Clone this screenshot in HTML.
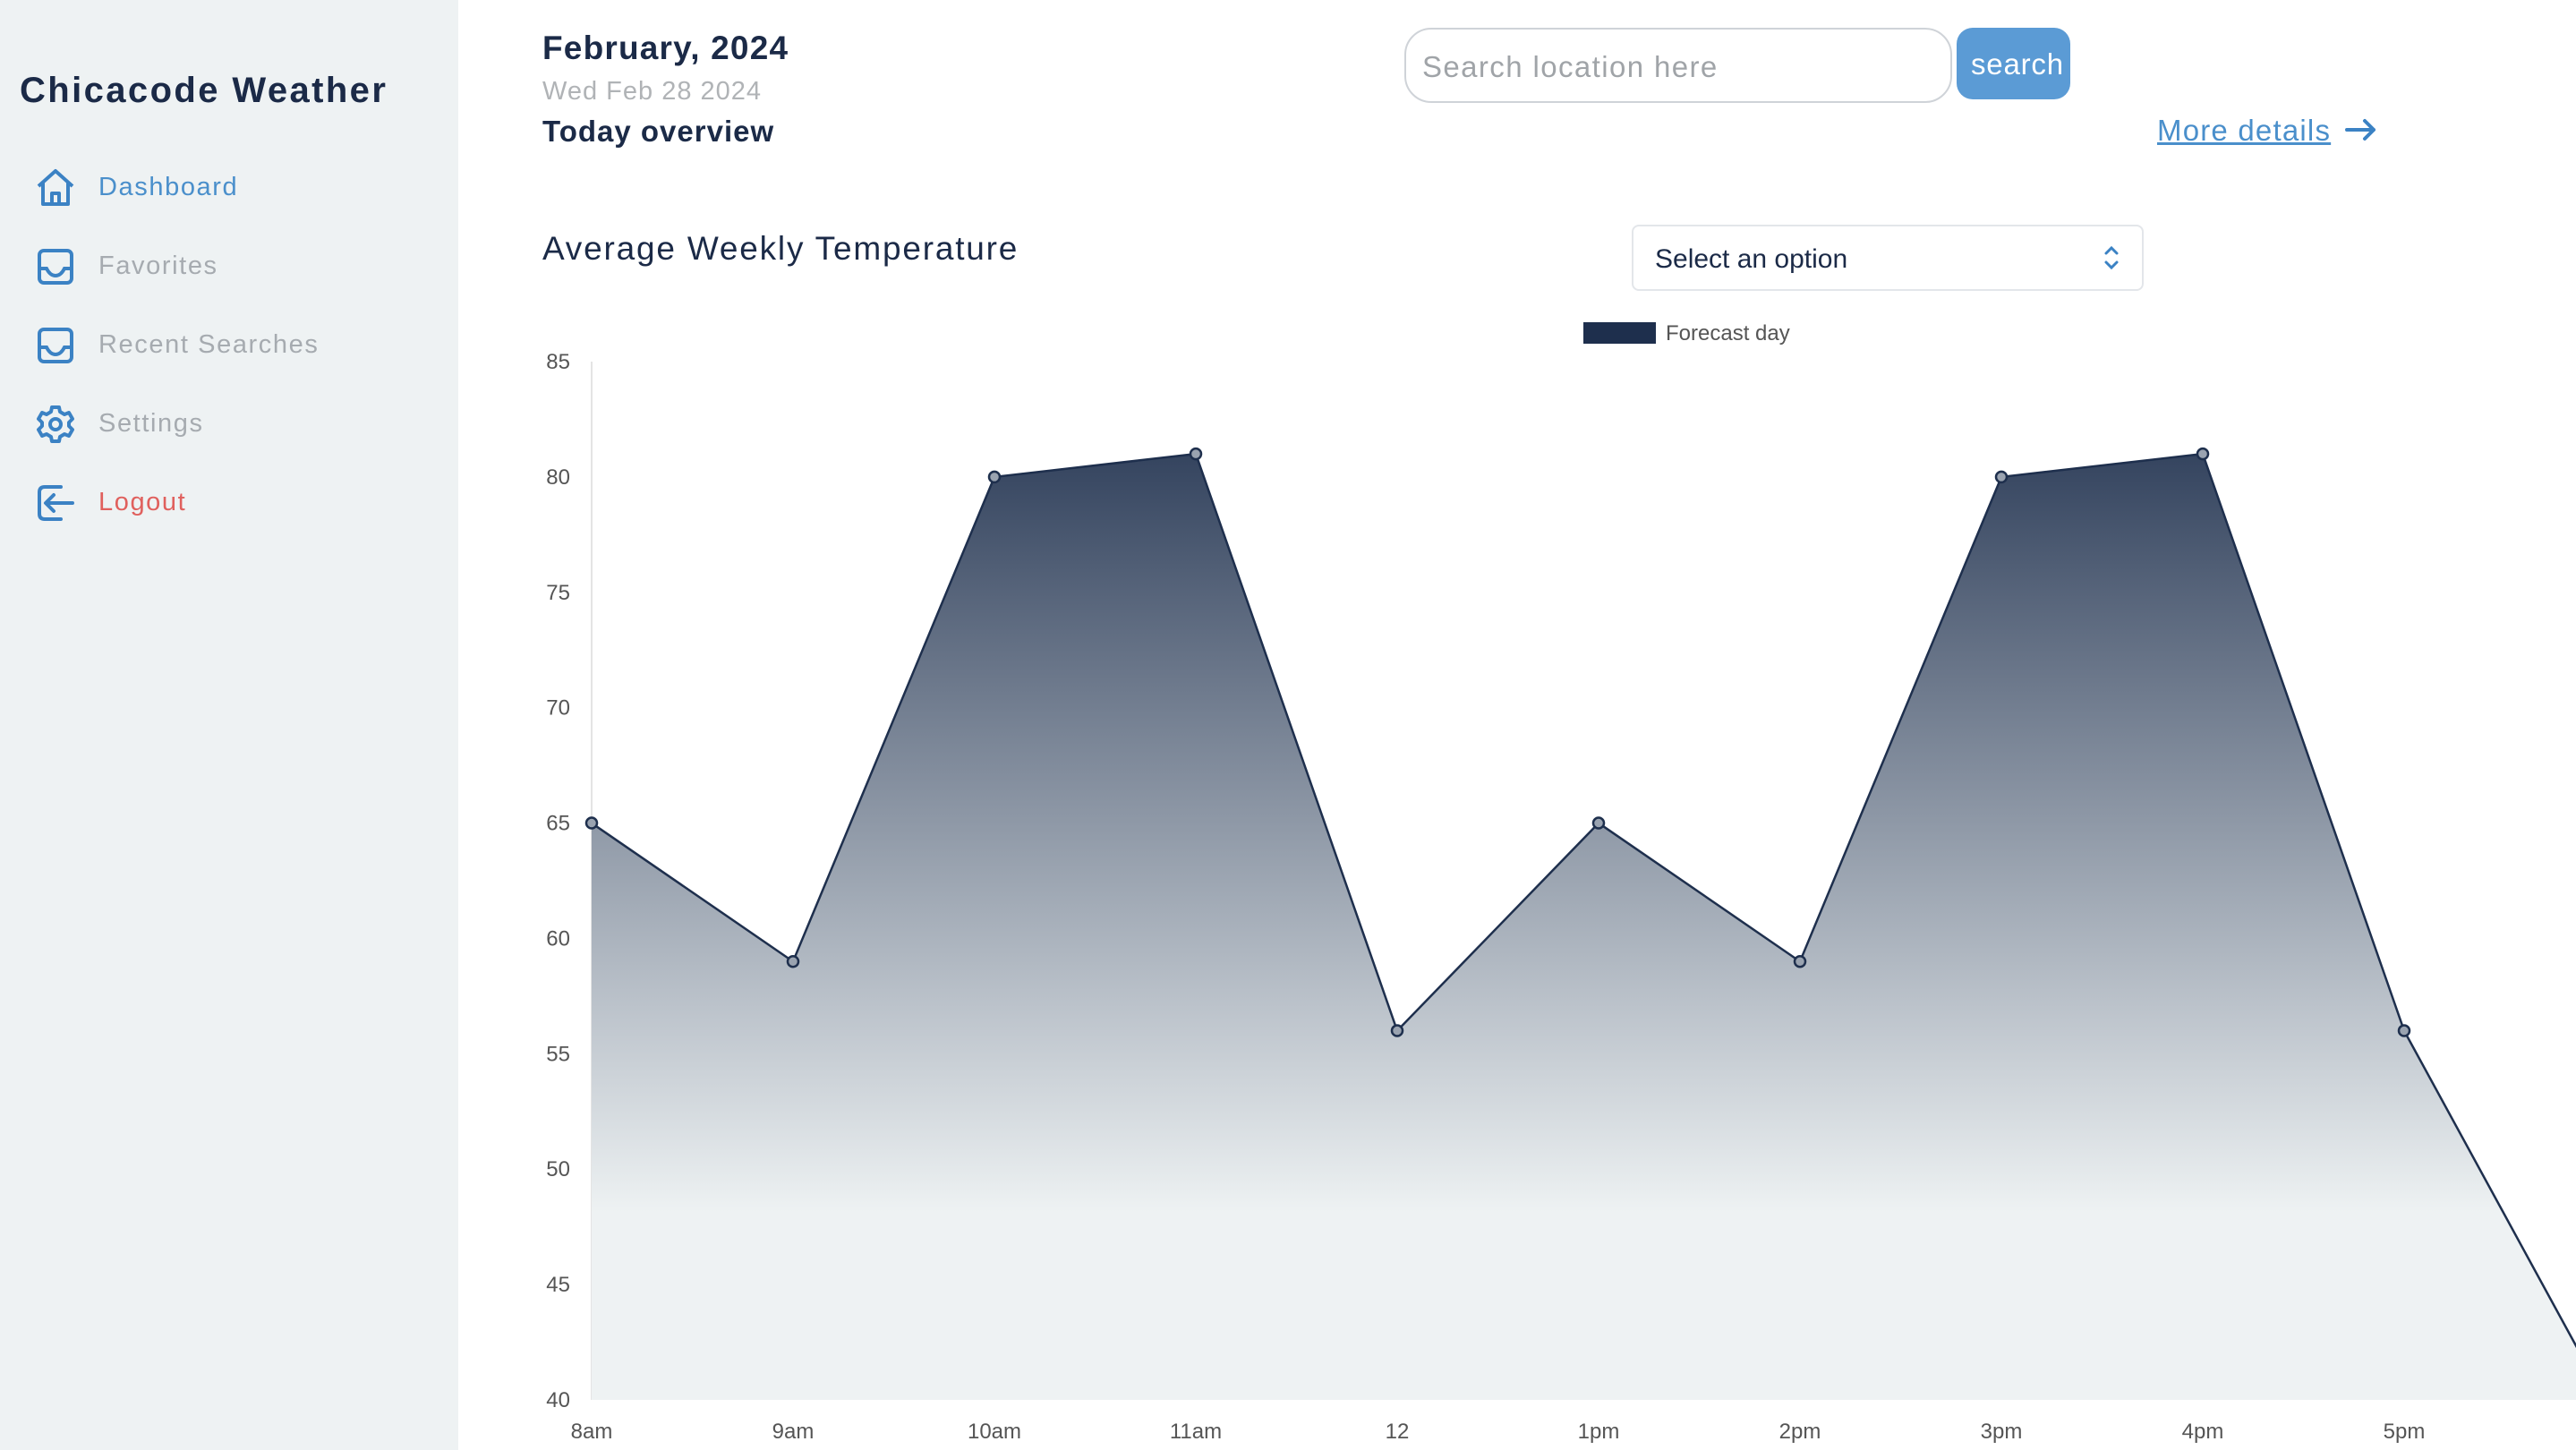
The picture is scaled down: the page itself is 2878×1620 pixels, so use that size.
<!DOCTYPE html>
<html><head><meta charset="utf-8"><style>
*{margin:0;padding:0;box-sizing:border-box}
body{width:2878px;height:1620px;overflow:hidden;background:#fff;font-family:"Liberation Sans",sans-serif;position:relative;color:#1b2a47}
.abs{position:absolute}
#side{left:0;top:0;width:512px;height:1620px;background:#eef2f3}
.nav{position:absolute;left:110px;font-size:29px;line-height:1;color:#a6abb0;letter-spacing:1.6px}
.ico{position:absolute;left:40px;width:44px;height:44px}
</style></head><body>
<div id="side" class="abs">
<div class="abs" style="left:22px;top:79px;font-size:40px;font-weight:bold;color:#1b2a47;letter-spacing:2.4px">Chicacode Weather</div>
<svg class="ico" style="top:188px" viewBox="0 0 44 44" fill="none" stroke="#3b82c4" stroke-width="4" stroke-linejoin="round"><path d="M3 20L22 3L41 20M8 16V40H36V16M18 40V28H26V40"/></svg>
<div class="nav" style="top:195px;color:#4a8fcb">Dashboard</div>
<svg class="ico" style="top:276px" viewBox="0 0 44 44" fill="none" stroke="#3b82c4" stroke-width="4"><rect x="4" y="4" width="36" height="36" rx="5"/><path d="M4 24H12Q16 32 22 32Q28 32 32 24H40"/></svg>
<div class="nav" style="top:283px">Favorites</div>
<svg class="ico" style="top:364px" viewBox="0 0 44 44" fill="none" stroke="#3b82c4" stroke-width="4"><rect x="4" y="4" width="36" height="36" rx="5"/><path d="M4 24H12Q16 32 22 32Q28 32 32 24H40"/></svg>
<div class="nav" style="top:371px">Recent Searches</div>
<svg class="ico" style="top:452px" viewBox="0 0 44 44" fill="none" stroke="#3b82c4" stroke-width="4" stroke-linejoin="round"><path d="M18 3H26L27 8L32 11L37 9L41 16L37 20V24L41 28L37 35L32 33L27 36L26 41H18L17 36L12 33L7 35L3 28L7 24V20L3 16L7 9L12 11L17 8Z"/><circle cx="22" cy="22" r="6"/></svg>
<div class="nav" style="top:459px">Settings</div>
<svg class="ico" style="top:540px" viewBox="0 0 44 44" fill="none" stroke="#3b82c4" stroke-width="4" stroke-linecap="round" stroke-linejoin="round"><path d="M28 4H10Q4 4 4 10V34Q4 40 10 40H28M12 22H41M20 13L11 22L20 31"/></svg>
<div class="nav" style="top:547px;color:#e0605d">Logout</div>
</div>

<div class="abs" style="left:606px;top:33px;font-size:37px;font-weight:bold;letter-spacing:1.2px">February, 2024</div>
<div class="abs" style="left:606px;top:86px;font-size:29px;color:#b0b3b6;letter-spacing:1px">Wed Feb 28 2024</div>
<div class="abs" style="left:606px;top:128px;font-size:33px;font-weight:bold;letter-spacing:1px">Today overview</div>

<div class="abs" style="left:1569px;top:31px;width:612px;height:84px;border:2px solid #cfd3d8;border-radius:30px;font-size:33px;color:#a0a4a8;padding:23px 0 0 18px;letter-spacing:1.4px">Search location here</div>
<div class="abs" style="left:2186px;top:31px;width:127px;height:80px;background:#5b9bd5;border-radius:18px;color:#fff;font-size:33px;padding:22px 0 0 16px;letter-spacing:0.8px">search</div>
<div class="abs" style="left:2410px;top:127px;font-size:33px;color:#4a8fcb;text-decoration:underline;letter-spacing:1.2px">More details</div>
<svg class="abs" style="left:2618px;top:130px" width="40" height="30" viewBox="0 0 40 30" fill="none" stroke="#3b82c4" stroke-width="4" stroke-linecap="round" stroke-linejoin="round"><path d="M4 15H34M24 5L34 15L24 25"/></svg>

<div class="abs" style="left:606px;top:257px;font-size:37px;letter-spacing:1.8px">Average Weekly Temperature</div>
<div class="abs" style="left:1823px;top:251px;width:572px;height:74px;border:2px solid #e3e6ea;border-radius:8px;font-size:30px;padding:20px 0 0 24px">Select an option</div>
<svg class="abs" style="left:2348px;top:272px" width="22" height="32" viewBox="0 0 22 32" fill="none" stroke="#3b82c4" stroke-width="3" stroke-linecap="round"><path d="M5 11L11 5L17 11M5 21L11 27L17 21"/></svg>

<svg id="chart" class="abs" style="left:0;top:0" width="2878" height="1620">
<defs><linearGradient id="g" x1="0" y1="404" x2="0" y2="1564" gradientUnits="userSpaceOnUse"><stop offset="0" stop-color="#1e2f4d"/><stop offset="0.82" stop-color="#eef2f3"/><stop offset="1" stop-color="#eef2f3"/></linearGradient></defs>
<rect x="1769" y="360" width="81" height="24" fill="#1e2f4d"/>
<text x="1861" y="380" font-size="24" fill="#555">Forecast day</text>
<line x1="661" y1="404" x2="661" y2="1564" stroke="#e4e4e4" stroke-width="2"/>
</svg>
<script>
const categories=["8am","9am","10am","11am","12","1pm","2pm","3pm","4pm","5pm","6pm"];
const temps=[65,59,80,81,56,65,59,80,81,56,40];
const yTicks=[40,45,50,55,60,65,70,75,80,85];
const svg=document.getElementById('chart');
const NS='http://www.w3.org/2000/svg';
const x=i=>661+i*225;
const y=v=>1564-(v-40)*(1160/45);
function mk(t,a){const e=document.createElementNS(NS,t);for(const k in a)e.setAttribute(k,a[k]);svg.appendChild(e);return e;}
yTicks.forEach(v=>{const t=mk('text',{x:637,y:y(v)+8,'font-size':24,fill:'#555','text-anchor':'end'});t.textContent=v;

});
categories.forEach((c,i)=>{const t=mk('text',{x:x(i),y:1607,'font-size':24,fill:'#555','text-anchor':'middle'});t.textContent=c;

});
let d=temps.map((v,i)=>(i?'L':'M')+x(i)+' '+y(v)).join(' ');
const area=mk('path',{d:d+` L${x(temps.length-1)} 1564 L${x(0)} 1564 Z`,fill:'url(#g)'});


const line=mk('path',{d:d,fill:'none',stroke:'#1e2f4d','stroke-width':2.5});


temps.forEach((v,i)=>{const c=mk('circle',{cx:x(i),cy:y(v),r:6,fill:'#9aa3b0',stroke:'#1e2f4d','stroke-width':2.5});

});
</script>
</body></html>
